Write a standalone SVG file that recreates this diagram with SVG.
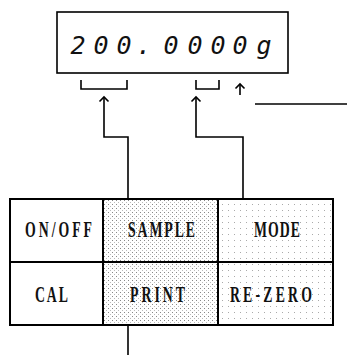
<svg xmlns="http://www.w3.org/2000/svg" width="353" height="355" viewBox="0 0 353 355">
<style>
.ln{fill:none;stroke:#000;stroke-width:1.6}
.cell{stroke:#000;stroke-width:2}
.lbl{font-family:"Liberation Serif",serif;font-weight:bold;font-size:23px;fill:#111}
.disp{font-family:"DejaVu Sans Mono",monospace;font-style:italic;font-size:25px;text-anchor:middle;fill:#111}
</style>
<defs>
<pattern id="dots" width="4" height="4" patternUnits="userSpaceOnUse">
<rect width="4" height="4" fill="#fff"/>
<rect x="0" y="0" width="1" height="1" fill="#888"/>
<rect x="2" y="2" width="1" height="1" fill="#bbb"/>
</pattern>
<pattern id="dots2" width="6" height="6" patternUnits="userSpaceOnUse">
<rect width="6" height="6" fill="#fff"/>
<rect x="0" y="0" width="1" height="1" fill="#aaa"/>
</pattern>
</defs>
<g id="display">
<rect x="57" y="12" width="231" height="61" class="ln"/>
<text class="disp" x="78 101 124 144 171 195 218 240 264" y="54">200.0000g</text>
<path class="ln" d="M81,80 V89 H127 V80"/>
<path class="ln" d="M196,80 V89 H219 V80"/>
<line class="ln" x1="240" y1="84" x2="240" y2="95"/>
<path class="ln" d="M235.5,88.5 L240,84 L244.5,88.5"/>
<line class="ln" x1="255" y1="104" x2="347" y2="104"/>
</g>
<g id="connectors">
<path class="ln" d="M104,97 V137 H128 V200"/>
<path class="ln" d="M99.5,101.5 L104,97 L108.5,101.5"/>
<path class="ln" d="M196,97 V137 H243 V200"/>
<path class="ln" d="M191.5,101.5 L196,97 L200.5,101.5"/>
<line class="ln" x1="128" y1="325" x2="128" y2="355"/>
</g>
<g id="onoff">
<rect class="cell" x="10" y="199" width="93" height="63" fill="#fff"/>
<text class="lbl" transform="scale(0.6,1)" x="41.7" y="237" textLength="111.7" lengthAdjust="spacing">ON/OFF</text>
</g>
<g id="sample">
<rect class="cell" x="103" y="199" width="115" height="63" fill="url(#dots)"/>
<text class="lbl" transform="scale(0.6,1)" x="213.3" y="237" textLength="111.7" lengthAdjust="spacing">SAMPLE</text>
</g>
<g id="mode">
<rect class="cell" x="218" y="199" width="115" height="63" fill="url(#dots2)"/>
<text class="lbl" transform="scale(0.6,1)" x="423.3" y="237" textLength="76.7" lengthAdjust="spacing">MODE</text>
</g>
<g id="cal">
<rect class="cell" x="10" y="262" width="93" height="63" fill="#fff"/>
<text class="lbl" transform="scale(0.6,1)" x="58.3" y="302" textLength="55" lengthAdjust="spacing">CAL</text>
</g>
<g id="print">
<rect class="cell" x="103" y="262" width="115" height="63" fill="url(#dots)"/>
<text class="lbl" transform="scale(0.6,1)" x="216.7" y="302" textLength="91.7" lengthAdjust="spacing">PRINT</text>
</g>
<g id="rezero">
<rect class="cell" x="218" y="262" width="115" height="63" fill="url(#dots2)"/>
<text class="lbl" transform="scale(0.6,1)" x="383.3" y="302" textLength="136.7" lengthAdjust="spacing">RE-ZERO</text>
</g>
</svg>
